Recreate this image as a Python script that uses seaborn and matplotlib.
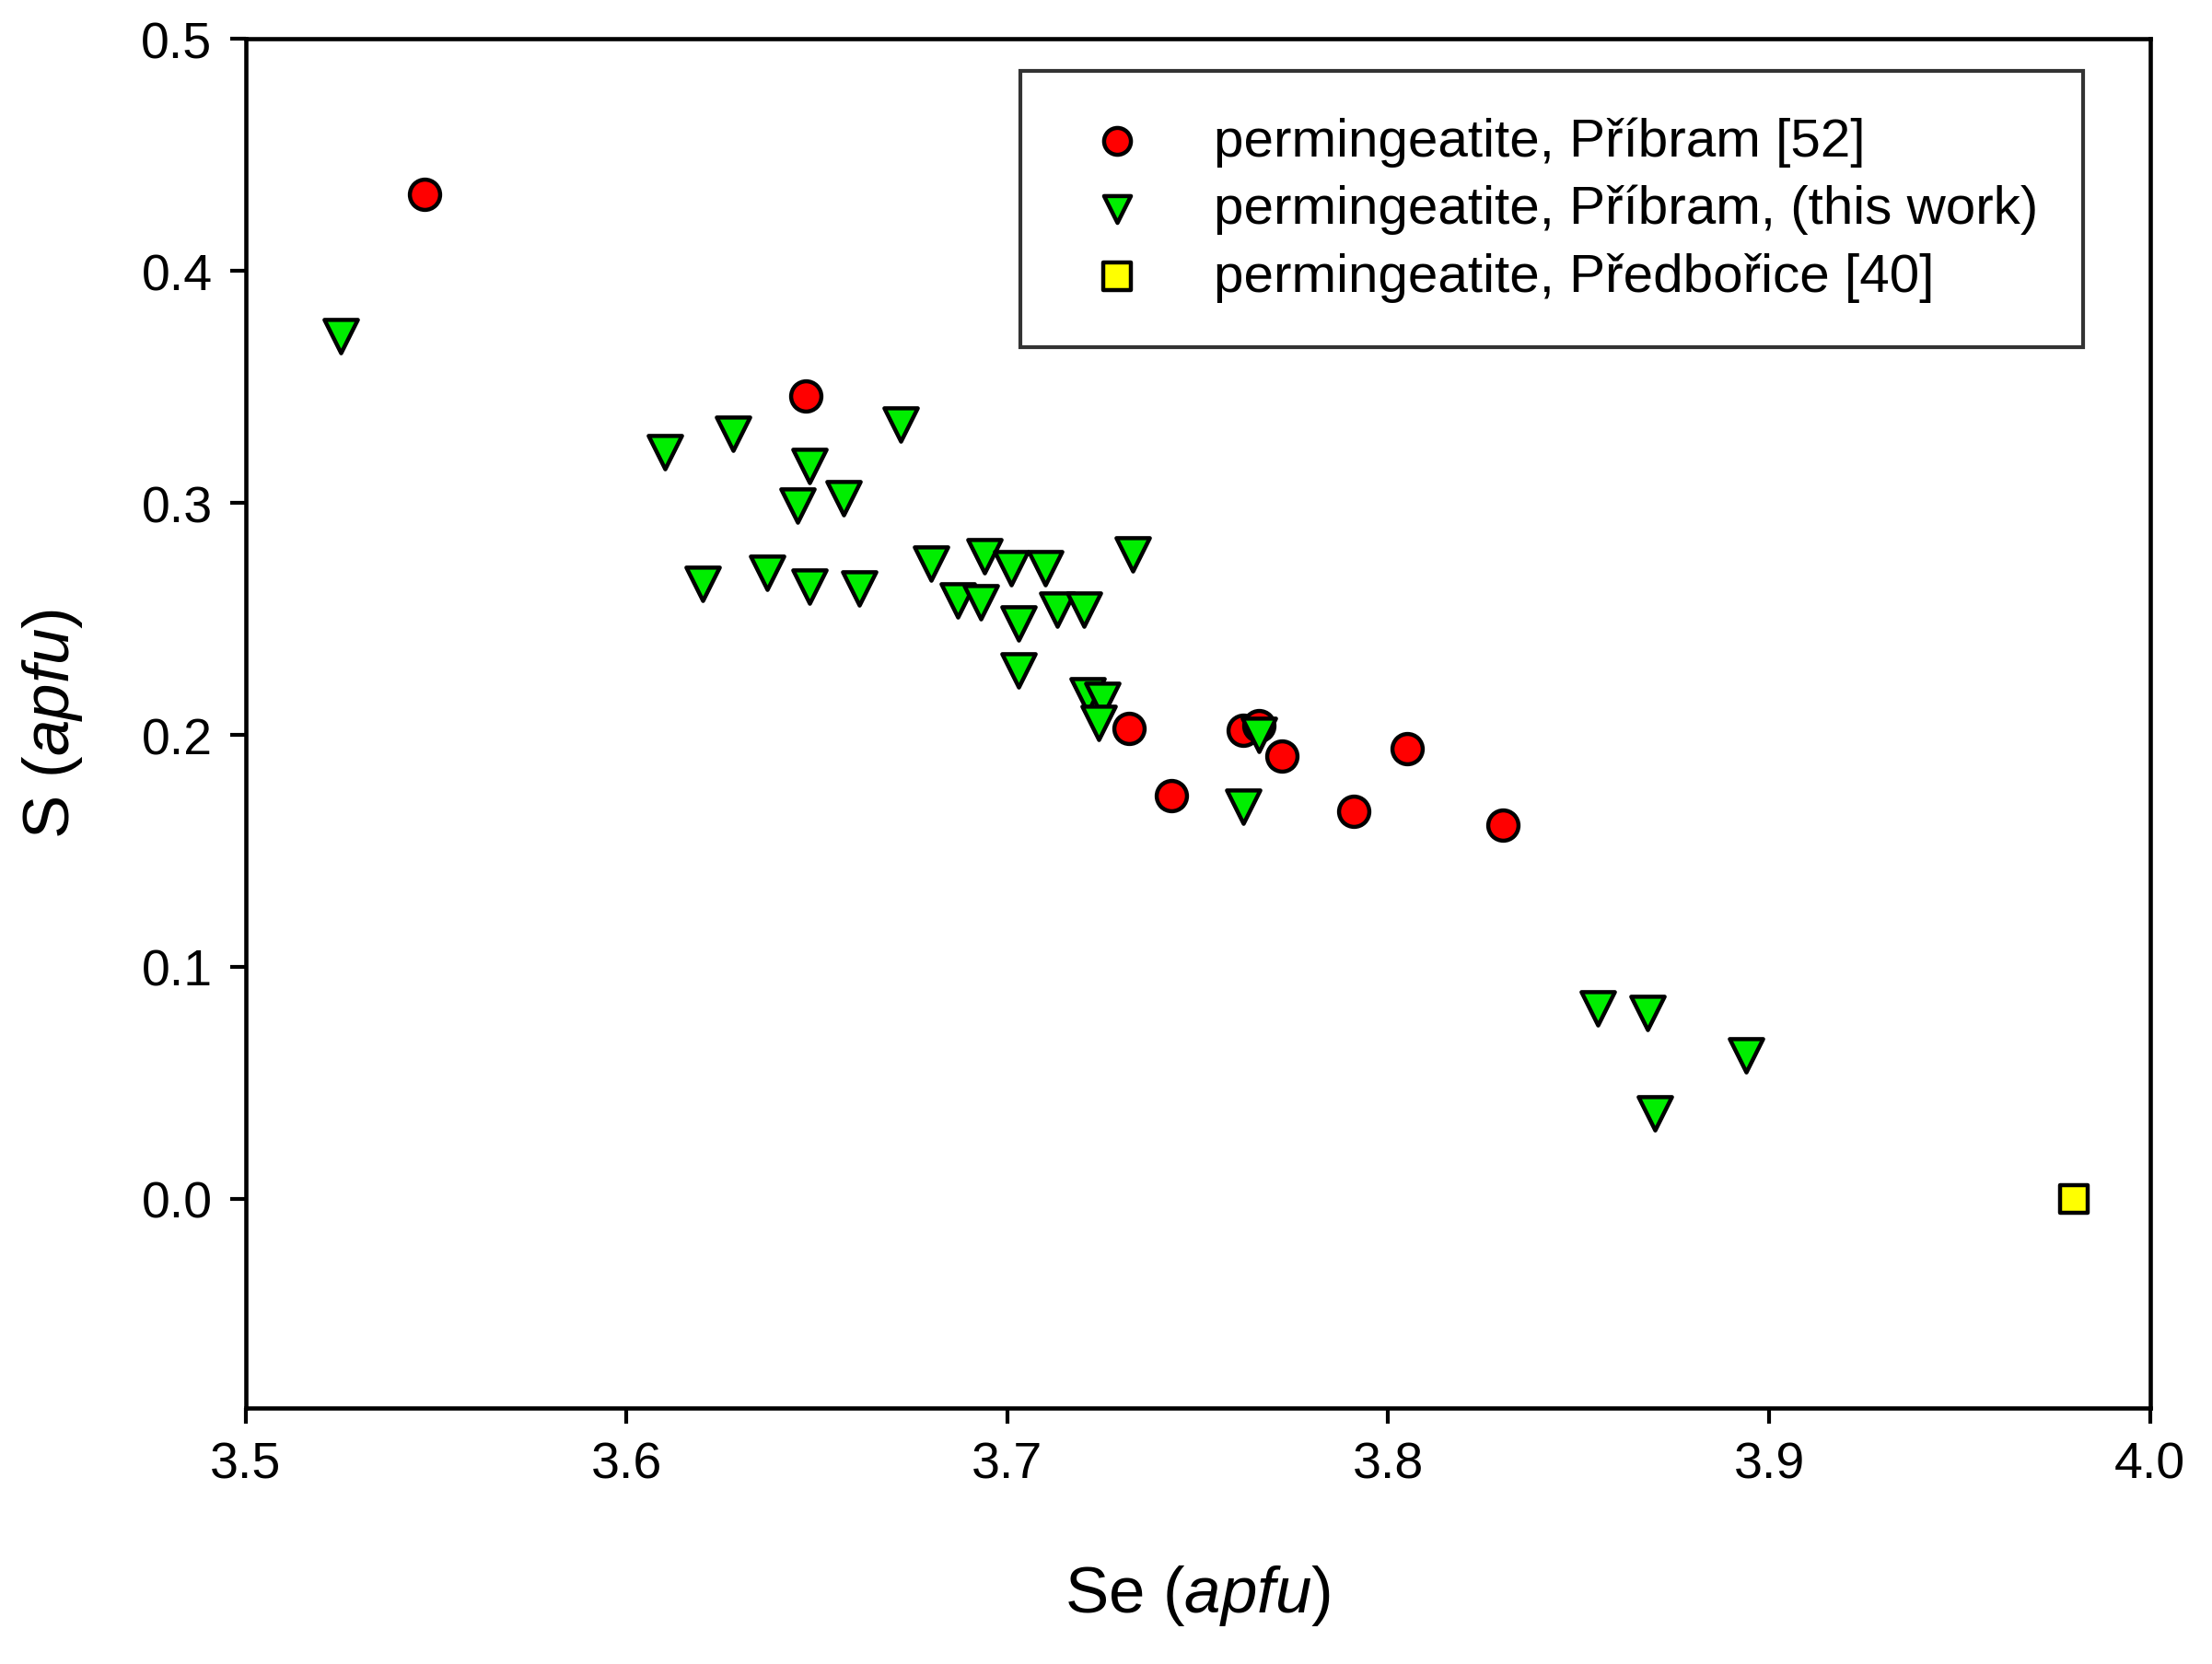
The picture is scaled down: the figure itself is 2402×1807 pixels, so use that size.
import seaborn as sns
import pandas as pd
import matplotlib.pyplot as plt

# red circles: Pribram [52]
se_52 = [3.547, 3.647, 3.732, 3.743, 3.762, 3.766, 3.772, 3.791, 3.805, 3.830]
s_52 = [0.433, 0.346, 0.203, 0.174, 0.202, 0.204, 0.191, 0.167, 0.194, 0.161]

# green triangles: this work
se_tw = [3.525, 3.610, 3.628, 3.637, 3.620, 3.645, 3.648, 3.648, 3.657, 3.661,
         3.672, 3.680, 3.687, 3.693, 3.694, 3.701, 3.710, 3.703, 3.703, 3.713,
         3.720, 3.721, 3.725, 3.724, 3.733, 3.762, 3.766, 3.855, 3.868, 3.870, 3.894]
s_tw = [0.372, 0.322, 0.330, 0.270, 0.265, 0.299, 0.316, 0.264, 0.302, 0.263,
        0.334, 0.274, 0.258, 0.257, 0.277, 0.272, 0.272, 0.248, 0.228, 0.254,
        0.254, 0.217, 0.215, 0.205, 0.278, 0.169, 0.200, 0.082, 0.080, 0.037, 0.062]

# yellow square: Predborice [40]
se_40 = [3.980]
s_40 = [0.0]

labels = ["permingeatite, P\u0159\u00edbram [52]",
          "permingeatite, P\u0159\u00edbram, (this work)",
          "permingeatite, P\u0159edbo\u0159ice [40]"]

sns.set_style("white")
plt.rcParams['font.family'] = ['Liberation Sans', 'DejaVu Sans']
plt.rcParams['mathtext.fontset'] = 'custom'
plt.rcParams['mathtext.rm'] = 'Liberation Sans'
plt.rcParams['mathtext.it'] = 'Liberation Sans:italic'
for k in ['text.color', 'axes.labelcolor', 'xtick.color', 'ytick.color']:
    plt.rcParams[k] = 'black'

fig = plt.figure(figsize=(24.02, 18.08), dpi=100)
ax = fig.add_axes([0.111, 0.154, 0.861, 0.822])

sns.scatterplot(x=se_52, y=s_52, marker='o', s=560, color='#ff0000',
                edgecolor='black', linewidth=3.2, label=labels[0], ax=ax, zorder=3)
sns.scatterplot(x=se_tw, y=s_tw, marker='v', s=680, color='#00ee00',
                edgecolor='black', linewidth=3.2, label=labels[1], ax=ax, zorder=3)
sns.scatterplot(x=se_40, y=s_40, marker='s', s=460, color='#ffff00',
                edgecolor='black', linewidth=3.2, label=labels[2], ax=ax, zorder=3)

ax.set_xlim(3.5, 4.0)
ax.set_ylim(-0.09, 0.5)
ax.set_xticks([3.5, 3.6, 3.7, 3.8, 3.9, 4.0])
ax.set_yticks([0.0, 0.1, 0.2, 0.3, 0.4, 0.5])
ax.set_xticklabels(['3.5', '3.6', '3.7', '3.8', '3.9', '4.0'])
ax.set_yticklabels(['0.0', '0.1', '0.2', '0.3', '0.4', '0.5'])
ax.tick_params(axis='both', direction='out', length=12, width=3,
               labelsize=40, bottom=True, left=True, top=False, right=False, pad=14)
for sp in ax.spines.values():
    sp.set_linewidth(3.3)
    sp.set_color('black')

ax.set_xlabel(r'Se ($\mathit{apfu}$)', fontsize=51, labelpad=58)
ax.set_ylabel(r'S ($\mathit{apfu}$)', fontsize=51, labelpad=44)

leg = ax.legend(loc='upper right', bbox_to_anchor=(0.965, 0.977), fontsize=42,
                frameon=True, fancybox=False, borderpad=0.85, handletextpad=0.85,
                labelspacing=0.33, borderaxespad=0, handlelength=1.9)
leg.get_frame().set_edgecolor('black')
leg.get_frame().set_linewidth(3)
for h in leg.legend_handles:
    h.set_sizes([440])

fig.savefig('out.png', dpi=100)
